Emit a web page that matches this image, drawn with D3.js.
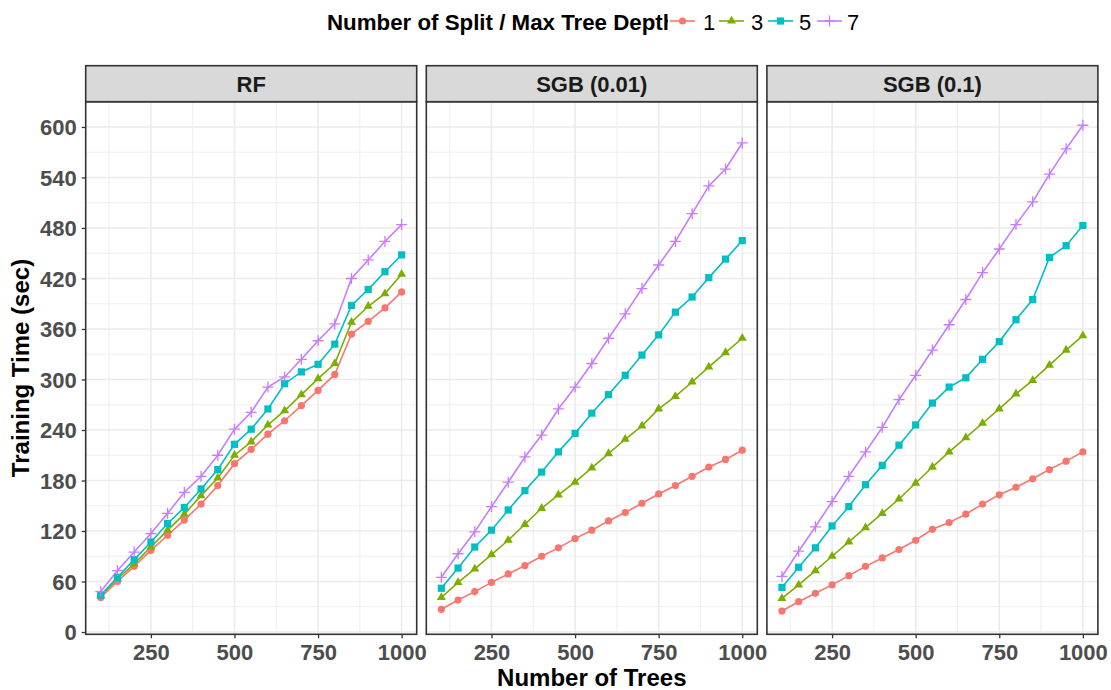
<!DOCTYPE html>
<html><head><meta charset="utf-8">
<script src="https://cdn.jsdelivr.net/npm/d3@7"></script>
<style>
html,body{margin:0;padding:0;background:#fff;}
text{font-family:"Liberation Sans",Arial,Helvetica,sans-serif;}
</style></head>
<body><svg id="chart" width="1111" height="690"></svg>
<script>
const trees = [100,150,200,250,300,350,400,450,500,550,600,650,700,750,800,850,900,950,1000];
const panels = ["RF","SGB (0.01)","SGB (0.1)"];
const depths = ["1","3","5","7"];
const xTicks = [250,500,750,1000];
const yTicks = [0,60,120,180,240,300,360,420,480,540,600];

const rf_1 = [41,60,78,97,115,133,152,174,200,217,235,251,269,287,306,354,369,385,404];
const rf_3 = [43,63,81,101,121,140,162,183,210,226,246,263,282,301,319,368,387,402,425];
const rf_5 = [44,65,86,107,129,148,170,193,223,241,265,295,309,318,342,388,407,428,448];
const rf_7 = [48,73,95,117,141,166,185,210,241,261,291,303,324,346,366,420,442,464,484];

const sgb001_1 = [27,38,48,59,69,79,90,100,111,121,132,142,153,164,174,185,196,205,216];
const sgb001_3 = [41,59,75,92,109,128,147,163,178,195,212,229,245,265,280,297,315,332,349];
const sgb001_5 = [52,76,101,121,145,168,190,214,236,260,282,305,329,353,380,398,421,443,465];
const sgb001_7 = [65,93,119,149,178,208,234,265,291,319,349,378,408,436,464,497,530,550,581];

const sgb01_1 = [25,36,46,56,67,78,88,98,109,122,130,140,152,163,172,182,193,203,214];
const sgb01_3 = [40,56,73,90,107,124,141,158,177,196,214,231,248,265,283,299,317,335,352];
const sgb01_5 = [53,77,100,126,149,175,198,222,246,272,291,302,324,345,371,395,445,459,483];
const sgb01_7 = [66,96,125,155,185,214,243,276,305,335,365,395,427,455,484,511,544,574,602];

const panelSeries = [
  [rf_1, rf_3, rf_5, rf_7],
  [sgb001_1, sgb001_3, sgb001_5, sgb001_7],
  [sgb01_1, sgb01_3, sgb01_5, sgb01_7]
];
const colors = ["#F8766D","#7CAE00","#00BFC4","#C77CFF"];

const svg = d3.select("#chart");
const pw = 331, gap = 9.6, left0 = 85.7;
const pTop = 101.7, pBottom = 634.3, stripTop = 65.7;
const y = d3.scaleLinear().domain([-2.7, 630]).range([pBottom, pTop]);
const yMinor = [30,90,150,210,270,330,390,450,510,570,630];
const xMinor = [125,375,625,875];

function drawMarker(g, k, cx, cy){
  const c = colors[k];
  if (k===0){
    g.append("circle").attr("cx",cx).attr("cy",cy).attr("r",3.6).attr("fill",c);
  } else if (k===1){
    const s=9, h=s*Math.sqrt(3)/2;
    g.append("path").attr("d",`M${cx},${cy-h*2/3}L${cx+s/2},${cy+h/3}L${cx-s/2},${cy+h/3}Z`).attr("fill",c);
  } else if (k===2){
    g.append("rect").attr("x",cx-3.6).attr("y",cy-3.6).attr("width",7.2).attr("height",7.2).attr("fill",c);
  } else {
    g.append("path").attr("d",`M${cx-5.5},${cy}H${cx+5.5}M${cx},${cy-5.5}V${cy+5.5}`).attr("stroke",c).attr("stroke-width",1.3).attr("fill","none");
  }
}

panels.forEach((name, p) => {
  const L = left0 + p*(pw+gap);
  const x = d3.scaleLinear().domain([55,1045]).range([L, L+pw]);
  const g = svg.append("g");
  g.append("rect").attr("x",L).attr("y",pTop).attr("width",pw).attr("height",pBottom-pTop).attr("fill","#fff");
  yMinor.forEach(v=>{ g.append("line").attr("x1",L).attr("x2",L+pw).attr("y1",y(v)).attr("y2",y(v)).attr("stroke","#EBEBEB").attr("stroke-width",0.8); });
  xMinor.forEach(v=>{ g.append("line").attr("x1",x(v)).attr("x2",x(v)).attr("y1",pTop).attr("y2",pBottom).attr("stroke","#EBEBEB").attr("stroke-width",0.8); });
  yTicks.forEach(v=>{ g.append("line").attr("x1",L).attr("x2",L+pw).attr("y1",y(v)).attr("y2",y(v)).attr("stroke","#EBEBEB").attr("stroke-width",1.6); });
  xTicks.forEach(v=>{ g.append("line").attr("x1",x(v)).attr("x2",x(v)).attr("y1",pTop).attr("y2",pBottom).attr("stroke","#EBEBEB").attr("stroke-width",1.6); });

  const series = panelSeries[p];
  const line = d3.line().x((d,i)=>x(trees[i])).y(d=>y(d));
  series.forEach((s,k)=>{
    g.append("path").attr("d",line(s)).attr("fill","none").attr("stroke",colors[k]).attr("stroke-width",1.6);
  });
  series.forEach((s,k)=>{
    s.forEach((v,i)=> drawMarker(g,k,x(trees[i]),y(v)));
  });

  g.append("rect").attr("x",L).attr("y",pTop).attr("width",pw).attr("height",pBottom-pTop).attr("fill","none").attr("stroke","#333333").attr("stroke-width",1.6);
  g.append("rect").attr("x",L).attr("y",stripTop).attr("width",pw).attr("height",pTop-stripTop).attr("fill","#D9D9D9").attr("stroke","#333333").attr("stroke-width",1.6);
  g.append("text").attr("x",L+pw/2).attr("y",92).attr("text-anchor","middle").attr("font-size","22px").attr("font-weight","bold").attr("fill","#1A1A1A").text(name);

  const xa = g.append("g").attr("transform",`translate(0,${pBottom})`)
    .call(d3.axisBottom(x).tickValues(xTicks).tickSize(4).tickPadding(4).tickFormat(d3.format("d")));
  xa.select(".domain").remove();
  xa.selectAll(".tick line").attr("stroke","#333333").attr("stroke-width",1.3);
  xa.selectAll(".tick text").attr("font-size","22px").attr("font-weight","bold").attr("fill","#4D4D4D")
    .attr("font-family","Liberation Sans, Arial, sans-serif").attr("dy",null).attr("y",26);

  if (p===0){
    const ya = g.append("g").attr("transform",`translate(${L},0)`)
      .call(d3.axisLeft(y).tickValues(yTicks).tickSize(4).tickPadding(5).tickFormat(d3.format("d")));
    ya.select(".domain").remove();
    ya.selectAll(".tick line").attr("stroke","#333333").attr("stroke-width",1.3);
    ya.selectAll(".tick text").attr("font-size","22px").attr("font-weight","bold").attr("fill","#4D4D4D")
      .attr("font-family","Liberation Sans, Arial, sans-serif").attr("dy","0.36em");
  }
});

svg.append("text").attr("x",(left0 + left0+3*pw+2*gap)/2).attr("y",686).attr("text-anchor","middle")
  .attr("font-size","24px").attr("font-weight","bold").attr("fill","#000").text("Number of Trees");
svg.append("text").attr("transform",`translate(29,${(pTop+pBottom)/2}) rotate(-90)`).attr("text-anchor","middle")
  .attr("font-size","24px").attr("font-weight","bold").attr("fill","#000").text("Training Time (sec)");

const lg = svg.append("g");
lg.append("text").attr("x",327).attr("y",30).attr("font-size","22.3px").attr("font-weight","bold").attr("fill","#000")
  .text("Number of Split / Max Tree Depth");
const keyX = [670,719,768,817];
const labX = [703,751,799,847];
depths.forEach((d,k)=>{
  lg.append("rect").attr("x",keyX[k]-2).attr("y",6).attr("width",28).attr("height",30).attr("fill","#fff");
  lg.append("line").attr("x1",keyX[k]).attr("x2",keyX[k]+25).attr("y1",21).attr("y2",21).attr("stroke",colors[k]).attr("stroke-width",1.6);
  drawMarker(lg,k,keyX[k]+12.5,21);
  lg.append("text").attr("x",labX[k]).attr("y",30).attr("font-size","22px").attr("fill","#000").text(d);
});
</script>
</body></html>
